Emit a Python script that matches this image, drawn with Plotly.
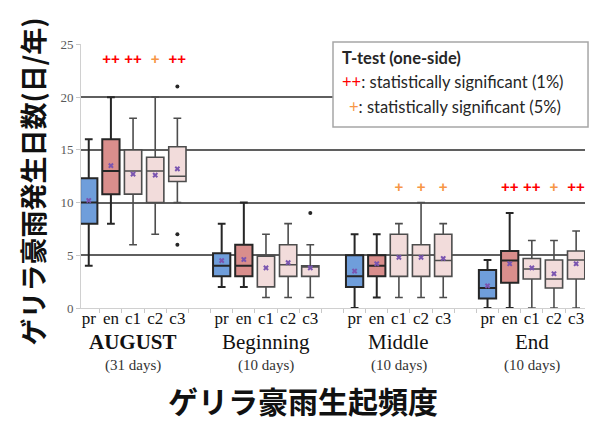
import plotly.graph_objects as go

categories = ["pr", "en", "c1", "c2", "c3"]
groups = ["AUGUST", "Beginning", "Middle", "End"]
group_days = ["(31 days)", "(10 days)", "(10 days)", "(10 days)"]

# values per group: order pr, en, c1, c2, c3
lower = [[4.0, 8.0, 6.0, 7.0, 10.0],
         [2.0, 2.0, 1.0, 1.0, 1.0],
         [0.0, 1.0, 1.0, 1.0, 1.0],
         [0.0, 0.0, 0.0, 0.0, 0.0]]
q1 = [[8.0, 10.8, 10.8, 10.0, 12.0],
      [3.0, 3.0, 2.0, 3.0, 3.0],
      [2.0, 3.0, 3.0, 3.0, 3.0],
      [0.9, 2.4, 2.75, 1.9, 2.75]]
median = [[10.0, 13.0, 13.0, 13.0, 12.5],
          [4.0, 4.0, 5.0, 4.1, 4.0],
          [3.0, 4.0, 5.0, 5.0, 4.5],
          [1.9, 4.5, 3.7, 2.75, 4.55]]
q3 = [[12.3, 16.0, 15.0, 14.3, 15.3],
      [5.2, 6.0, 5.0, 6.0, 4.0],
      [5.0, 5.0, 7.0, 6.0, 7.0],
      [3.6, 5.4, 4.7, 4.55, 5.4]]
upper = [[16.0, 20.0, 18.0, 20.0, 18.0],
         [8.0, 10.0, 7.0, 8.0, 6.0],
         [7.0, 7.0, 8.0, 10.0, 8.0],
         [4.55, 9.0, 6.4, 6.4, 7.3]]
mean = [[10.2, 13.5, 12.7, 12.6, 13.2],
        [4.5, 4.6, 3.8, 4.3, 3.8],
        [3.5, 4.2, 4.8, 4.8, 4.7],
        [2.1, 4.2, 3.8, 3.25, 4.2]]
# outliers: (group index, category index, value)
outliers = [(0, 4, 21.0), (0, 4, 7.0), (0, 4, 6.0), (1, 4, 9.0)]
# significance marks
signif = [["", "++", "++", "+", "++"],
          ["", "", "", "", ""],
          ["", "", "+", "+", "+"],
          ["", "++", "++", "+", "++"]]
signif_y = [23.5, 0, 11.4, 11.4]

SLOT = 6
def xpos(g, i):
    return g * SLOT + i

fills = ["#6f9edb", "#d98e8c", "#f2dcdb", "#f2dcdb", "#f2dcdb"]
lines = ["#262626", "#262626", "#4d4d4d", "#4d4d4d", "#4d4d4d"]
lws = [2, 2, 1.6, 1.6, 1.6]

fig = go.Figure()
for i, cat in enumerate(categories):
    fig.add_trace(go.Box(
        x=[xpos(g, i) for g in range(len(groups))],
        q1=[q1[g][i] for g in range(len(groups))],
        median=[median[g][i] for g in range(len(groups))],
        q3=[q3[g][i] for g in range(len(groups))],
        lowerfence=[lower[g][i] for g in range(len(groups))],
        upperfence=[upper[g][i] for g in range(len(groups))],
        width=0.78, whiskerwidth=0.45,
        fillcolor=fills[i], line=dict(color=lines[i], width=lws[i]),
        boxpoints=False, showlegend=False, hoverinfo="skip",
    ))

# means
fig.add_trace(go.Scatter(
    x=[xpos(g, i) for g in range(len(groups)) for i in range(len(categories))],
    y=[mean[g][i] for g in range(len(groups)) for i in range(len(categories))],
    mode="markers", marker=dict(symbol="x", size=5, color="#7a55b0"),
    showlegend=False, hoverinfo="skip"))

# outliers
fig.add_trace(go.Scatter(
    x=[xpos(g, i) for g, i, v in outliers],
    y=[v for g, i, v in outliers],
    mode="markers", marker=dict(size=4, color="#262626"),
    showlegend=False, hoverinfo="skip"))

# significance
sx, sy, st, sc = [], [], [], []
for g in range(len(groups)):
    for i in range(len(categories)):
        s = signif[g][i]
        if s:
            sx.append(xpos(g, i)); sy.append(signif_y[g]); st.append(s)
            sc.append("#ff0000" if s == "++" else "#f79646")
fig.add_trace(go.Scatter(
    x=sx, y=sy, text=st, mode="text",
    textfont=dict(family="Liberation Sans", size=15, color=sc, weight="bold"),
    showlegend=False, hoverinfo="skip"))

tickvals = [xpos(g, i) for g in range(len(groups)) for i in range(len(categories))]
ticktext = [c for g in range(len(groups)) for c in categories]

annotations = []
for g, name in enumerate(groups):
    label = f"<b>{name}</b>" if g == 0 else name
    annotations.append(dict(x=xpos(g, 2), y=-0.127, xref="x", yref="paper", text=label,
                            xanchor="center", yanchor="middle",
                            showarrow=False, font=dict(family="Liberation Serif", size=21, color="#111")))
    annotations.append(dict(x=xpos(g, 2), y=-0.216, xref="x", yref="paper", text=group_days[g],
                            xanchor="center", yanchor="middle",
                            showarrow=False, font=dict(family="Liberation Serif", size=15, color="#333")))

annotations.append(dict(x=-0.097, y=0.48, xref="paper", yref="paper", textangle=-90,
                        xanchor="center", yanchor="middle",
                        text="<b>ゲリラ豪雨発生日数(日/年)</b>", showarrow=False,
                        font=dict(family="Noto Sans CJK JP", size=27, color="#111")))
annotations.append(dict(x=0.44, y=-0.35, xref="paper", yref="paper",
                        xanchor="center", yanchor="middle",
                        text="<b>ゲリラ豪雨生起頻度</b>", showarrow=False,
                        font=dict(family="Noto Sans CJK JP", size=30, color="#111")))

lf = dict(family="Lato", size=16.5, color="#262626")
annotations.append(dict(x=0.514, y=0.947, xref="paper", yref="paper", xanchor="left", yanchor="middle",
                        text="<b>T-test (one-side)</b>", showarrow=False, font=lf))
annotations.append(dict(x=0.514, y=0.856, xref="paper", yref="paper", xanchor="left", yanchor="middle",
                        text='<span style="color:#ff0000">++</span>: statistically significant (1%)',
                        showarrow=False, font=lf))
annotations.append(dict(x=0.527, y=0.761, xref="paper", yref="paper", xanchor="left", yanchor="middle",
                        text='<span style="color:#f79646">+</span>: statistically significant (5%)',
                        showarrow=False, font=lf))

fig.update_layout(
    width=590, height=423,
    margin=dict(l=81, r=5, t=44, b=115),
    paper_bgcolor="white", plot_bgcolor="white",
    boxmode="overlay",
    annotations=annotations,
    shapes=[dict(type="rect", xref="paper", yref="paper", x0=0.5, x1=1.006, y0=0.686, y1=1.008,
                 line=dict(color="#a6a6a6", width=1.5), fillcolor="white", layer="above")],
    xaxis=dict(range=[-0.35, 22.4], tickvals=tickvals, ticktext=ticktext, ticks="",
               ticklabelstandoff=-5,
               tickfont=dict(family="Liberation Serif", size=17, color="#111"),
               showgrid=False, zeroline=False, showline=True, linecolor="#d0d0d0", linewidth=1,
               minor=dict(tick0=0.5, dtick=1, ticks="outside", ticklen=4, tickcolor="#c8c8c8")),
    yaxis=dict(range=[0, 25.04], tickvals=[0, 5, 10, 15, 20, 25], showgrid=True,
               gridcolor="#5f5f5f", gridwidth=1.5, zeroline=False,
               showline=True, linecolor="#d0d0d0", linewidth=1,
               ticks="outside", ticklen=4, tickcolor="#c8c8c8",
               tickfont=dict(family="Liberation Serif", size=13, color="#595959")),
)

fig.write_html("out.html")
